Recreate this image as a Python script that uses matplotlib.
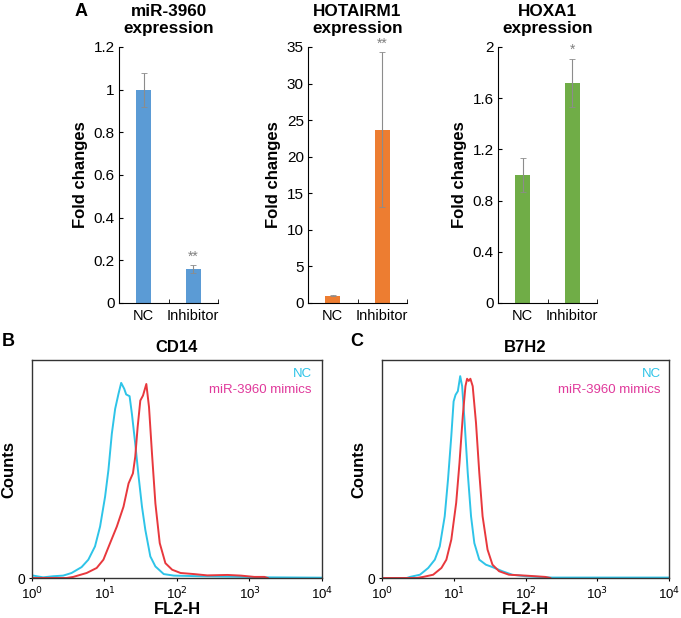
import matplotlib
matplotlib.use("Agg")
import matplotlib.pyplot as plt  # noqa: E402
import numpy as np  # noqa: E402
from matplotlib.ticker import NullLocator  # noqa: E402

plt.rcParams["font.family"] = ["Liberation Sans", "DejaVu Sans"]

# --- panel A: qPCR fold changes ---
groups = ["NC", "Inhibitor"]
titles = ["miR-3960\nexpression", "HOTAIRM1\nexpression", "HOXA1\nexpression"]
mir3960_vals = [1.0, 0.16]
mir3960_err = [0.08, 0.02]
hotairm1_vals = [1.0, 23.7]
hotairm1_err = [0.1, 10.6]
hoxa1_vals = [1.0, 1.72]
hoxa1_err = [0.13, 0.19]
stars = ["**", "**", "*"]
ylims = [1.2, 35, 2.0]
yticks = [[0, 0.2, 0.4, 0.6, 0.8, 1, 1.2],
          [0, 5, 10, 15, 20, 25, 30, 35],
          [0, 0.4, 0.8, 1.2, 1.6, 2]]
ytick_labels = [["0", "0.2", "0.4", "0.6", "0.8", "1", "1.2"],
                ["0", "5", "10", "15", "20", "25", "30", "35"],
                ["0", "0.4", "0.8", "1.2", "1.6", "2"]]
bar_colors = ["#5b9bd5", "#ed7d31", "#70ad47"]

# --- panels B/C: flow cytometry histograms (log10 FL2-H, normalised counts) ---
cd14_nc_log = [0.0, 0.153, 0.291, 0.430, 0.546, 0.684, 0.777, 0.869, 0.939, 1.008, 1.054,
               1.101, 1.147, 1.193, 1.230, 1.272, 1.299, 1.346, 1.378, 1.424, 1.471, 1.517,
               1.563, 1.632, 1.702, 1.817, 1.956, 2.326, 2.788, 3.251, 4.0]
cd14_nc_counts = [0.012, 0.003, 0.008, 0.011, 0.023, 0.05, 0.084, 0.145, 0.236, 0.373, 0.495,
                  0.662, 0.776, 0.845, 0.895, 0.868, 0.842, 0.834, 0.753, 0.616, 0.464, 0.327,
                  0.221, 0.099, 0.053, 0.018, 0.011, 0.008, 0.006, 0.003, 0.0015]
cd14_mim_log = [0.0, 0.476, 0.569, 0.754, 0.892, 0.985, 1.077, 1.170, 1.262, 1.332, 1.392,
                1.424, 1.457, 1.494, 1.531, 1.577, 1.614, 1.655, 1.702, 1.762, 1.840, 1.933,
                2.049, 2.234, 2.418, 2.696, 2.881, 3.066, 3.205, 3.251]
cd14_mim_counts = [0.0, 0.0, 0.005, 0.023, 0.046, 0.084, 0.16, 0.236, 0.327, 0.434, 0.48,
                   0.556, 0.692, 0.814, 0.837, 0.89, 0.784, 0.571, 0.342, 0.16, 0.068, 0.038,
                   0.023, 0.018, 0.012, 0.014, 0.011, 0.005, 0.005, 0.0]
b7h2_nc_log = [0.0, 0.345, 0.391, 0.529, 0.644, 0.736, 0.805, 0.874, 0.920, 0.966, 0.998,
               1.025, 1.057, 1.090, 1.117, 1.149, 1.195, 1.241, 1.287, 1.356, 1.448, 1.540,
               1.678, 1.816, 2.0, 2.368, 4.0]
b7h2_nc_counts = [0.0, 0.0, 0.005, 0.015, 0.046, 0.084, 0.145, 0.283, 0.452, 0.652, 0.81,
                  0.84, 0.857, 0.926, 0.88, 0.727, 0.482, 0.283, 0.16, 0.084, 0.061, 0.05,
                  0.031, 0.015, 0.008, 0.002, 0.002]
b7h2_mim_log = [0.0, 0.483, 0.575, 0.713, 0.828, 0.897, 0.966, 1.034, 1.080, 1.126, 1.163,
                1.186, 1.209, 1.232, 1.264, 1.310, 1.356, 1.402, 1.471, 1.540, 1.632, 1.770,
                2.0, 2.138, 2.276, 2.345]
b7h2_mim_counts = [0.0, 0.0, 0.005, 0.015, 0.046, 0.084, 0.176, 0.345, 0.528, 0.743, 0.88,
                   0.914, 0.904, 0.914, 0.88, 0.712, 0.482, 0.283, 0.13, 0.061, 0.031, 0.015,
                   0.011, 0.008, 0.005, 0.0]
nc_color = "#2ec4e8"
mim_color = "#e8383d"
label_mim_color = "#e0399b"

fig = plt.figure(figsize=(6.81, 6.18), dpi=100)

bar_sets = [(mir3960_vals, mir3960_err), (hotairm1_vals, hotairm1_err), (hoxa1_vals, hoxa1_err)]
lefts = [119, 308, 498]
for i, (vals, errs) in enumerate(bar_sets):
    ax = fig.add_axes([lefts[i] / 681, 1 - 303 / 618, 99 / 681, 256 / 618])
    x = np.arange(len(groups))
    ax.bar(x, vals, width=0.31, color=bar_colors[i], zorder=2)
    ax.errorbar(x, vals, yerr=errs, fmt="none", ecolor="#8c8c8c", elinewidth=0.8,
                capsize=2, capthick=0.6, zorder=3)
    ax.text(1, vals[1] + errs[1] + ylims[i] * 0.005, stars[i], ha="center", va="bottom",
            fontsize=10, color="#808080")
    ax.set_xlim(-0.5, 1.5)
    ax.set_ylim(0, ylims[i])
    ax.set_yticks(yticks[i])
    ax.set_yticklabels(ytick_labels[i], fontsize=11)
    ax.set_xticks(x)
    ax.set_xticklabels(groups, fontsize=10.5)
    ax.tick_params(axis="x", length=0, pad=4)
    ax.set_xticks([-0.5, 0.5, 1.5], minor=True)
    ax.tick_params(axis="x", which="minor", direction="in", length=3)
    ax.tick_params(axis="y", direction="in", length=3, pad=3)
    for s in ["top", "right"]:
        ax.spines[s].set_visible(False)
    ax.set_ylabel("Fold changes", fontsize=12, fontweight="bold", labelpad=4)
    ax.set_title(titles[i], fontsize=12.3, fontweight="bold", pad=10, linespacing=1.15)

fig.text(75 / 681, 1 - 3 / 618, "A", fontsize=13, fontweight="bold", va="top")

hist_sets = [
    ("CD14", "B", 32, 290, 0.965, cd14_nc_log, cd14_nc_counts, cd14_mim_log, cd14_mim_counts),
    ("B7H2", "C", 382, 287, 0.972, b7h2_nc_log, b7h2_nc_counts, b7h2_mim_log, b7h2_mim_counts),
]
for title, letter, left, width, lab_x, nc_x, nc_y, mim_x, mim_y in hist_sets:
    ax = fig.add_axes([left / 681, 1 - 578 / 618, width / 681, 218 / 618])
    ax.plot(10 ** np.array(nc_x), nc_y, color=nc_color, lw=1.4)
    ax.plot(10 ** np.array(mim_x), mim_y, color=mim_color, lw=1.4)
    ax.set_xscale("log")
    ax.set_xlim(1, 1e4)
    ax.set_ylim(0, 1)
    ax.set_xticks([1, 10, 100, 1000, 10000])
    ax.set_xticklabels([r"10$^0$", r"10$^1$", r"10$^2$", r"10$^3$", r"10$^4$"], fontsize=9.5)
    ax.xaxis.set_minor_locator(NullLocator())
    ax.set_yticks([0])
    ax.set_yticklabels(["0"], fontsize=10)
    ax.tick_params(axis="x", length=2, pad=3.5)
    ax.tick_params(axis="y", length=2, pad=2.5)
    for s in ax.spines.values():
        s.set_color("#333333")
        s.set_linewidth(1.0)
    ax.set_xlabel("FL2-H", fontsize=12, fontweight="bold", labelpad=0)
    ax.set_ylabel("Counts", fontsize=12, fontweight="bold", labelpad=1)
    ax.set_title(title, fontsize=12, fontweight="bold", pad=6)
    ax.text(lab_x, 0.936, "NC", color=nc_color, ha="right", va="center", fontsize=9.5,
            transform=ax.transAxes)
    ax.text(lab_x, 0.862, "miR-3960 mimics", color=label_mim_color, ha="right", va="center",
            fontsize=9.5, transform=ax.transAxes)
    letter_x = 2 if letter == "B" else 350
    fig.text(letter_x / 681, 1 - 333 / 618, letter, fontsize=13, fontweight="bold", va="top")

fig.savefig("out.png", dpi=100)
